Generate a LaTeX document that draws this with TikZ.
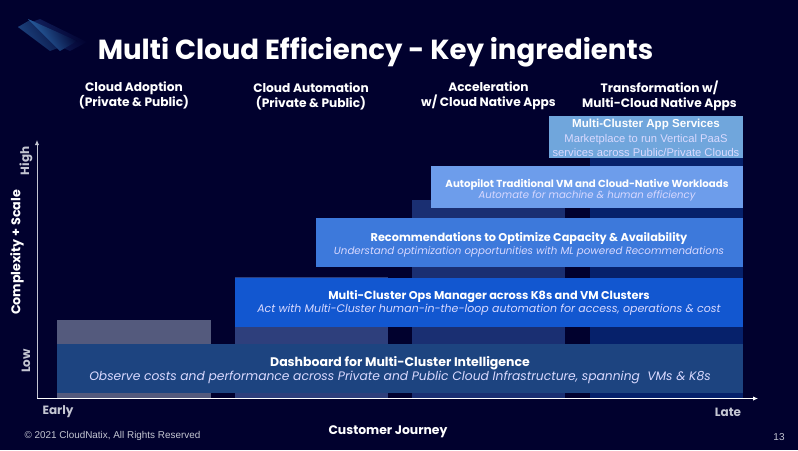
\documentclass[tikz,border=0pt]{standalone}
\usepackage{fontspec}
\setmainfont{Poppins}
\newfontfamily\rbfont{Liberation Sans}
\usepackage{xcolor}
\usetikzlibrary{arrows.meta, positioning, shapes.geometric, calc}
\definecolor{pagebg}{HTML}{01012E}
\definecolor{colA}{HTML}{545A7D}
\definecolor{colB}{HTML}{2E3F7C}
\definecolor{colC}{HTML}{1A2F72}
\definecolor{colD}{HTML}{06216B}
\definecolor{barA}{HTML}{1D4480}
\definecolor{barB}{HTML}{1257D0}
\definecolor{barC}{HTML}{3D79DB}
\definecolor{barD}{HTML}{6D9DEB}
\definecolor{barE}{HTML}{70A6DC}
\definecolor{softgray}{HTML}{C4C6D2}
\definecolor{logoblue}{HTML}{2F70B5}
\newcommand{\fsz}[1]{\fontsize{#1}{1.2em}\selectfont}

\begin{document}
\begin{tikzpicture}[
    x=1pt, y=-1pt,
    column/.style={fill=#1, draw=none},
    bar/.style={fill=#1, rectangle, inner sep=0pt, anchor=north west, text=white, align=center},
    head/.style={text=white, align=center, font=\fontsize{12.2}{15}\selectfont\bfseries},
    main/.style={text=white, font=\fsz{11.3}\bfseries},
    sub/.style={text=white!85!blue, font=\fsz{11}\itshape},
    axis/.style={-{Latex[length=5pt,width=4.5pt]}, line width=0.9pt},
    axlabel/.style={text=softgray, font=\fsz{12}\bfseries}
]
    \fill[pagebg] (0,0) rectangle (798,450);
    \useasboundingbox (0,0) rectangle (798,450);

    % logo
    \shade[left color=pagebg, right color=colC, shading angle=-60] (18,27) -- (40,19) -- (87,42) -- (70,51) -- cycle;
    \shade[left color=pagebg, right color=barA, shading angle=-60] (18,27) -- (30,20) -- (77,41) -- (50,51) -- cycle;
    \shade[left color=pagebg, right color=logoblue, shading angle=-60] (28,19) -- (77,41) -- (60,51) -- cycle;

    \node[text=white, font=\fsz{27.6}\bfseries] (title) at (375.5,52.5) {Multi Cloud Efficiency - Key ingredients};

    \node[head] (headA) at (134,95.5) {Cloud Adoption\\(Private \& Public)};
    \node[head] (headB) at (311,96.5) {Cloud Automation\\(Private \& Public)};
    \node[head] (headC) at (488.5,95.5) {Acceleration\\w/ Cloud Native Apps};
    \node[head] (headD) at (659.5,95.5) {Transformation w/\\Multi-Cloud Native Apps};

    % columns behind the bars
    \fill[column=colA] (57,320) rectangle (210.5,398);
    \fill[column=colB] (234.5,277) rectangle (388,398);
    \fill[column=colC] (412,200) rectangle (565,398);
    \fill[column=colD] (590,158) rectangle (743,398);

    \node[bar=barA, minimum width=686pt, minimum height=49pt] (dash) at (57,344) {};
    \node[main, font=\fsz{12.5}\bfseries] (dashT) at (400,363) {Dashboard for Multi-Cluster Intelligence};
    \node[sub, font=\fsz{12.3}\itshape] (dashS) at (400,377.5) {Observe costs and performance across Private and Public Cloud Infrastructure, spanning\ \ VMs \& K8s};

    \node[bar=barB, minimum width=508.5pt, minimum height=49.5pt] (ops) at (234.5,277.5) {};
    \node[main] (opsT) at (489,297) {Multi-Cluster Ops Manager across K8s and VM Clusters};
    \node[sub] (opsS) at (489,310) {Act with Multi-Cluster human-in-the-loop automation for access, operations \& cost};

    \node[bar=barC, minimum width=427.5pt, minimum height=49pt] (recs) at (315.5,218) {};
    \node[main] (recsT) at (529,238.5) {Recommendations to Optimize Capacity \& Availability};
    \node[sub, font=\fsz{10.3}\itshape] (recsS) at (529,252) {Understand optimization opportunities with ML powered Recommendations};

    \node[bar=barD, minimum width=312pt, minimum height=42pt] (auto) at (431,166) {};
    \node[main, font=\fsz{10.2}\bfseries] (autoT) at (587,184.5) {Autopilot Traditional VM and Cloud-Native Workloads};
    \node[sub, font=\fsz{10.1}\itshape] (autoS) at (587,196) {Automate for machine \& human efficiency};

    \node[bar=barE, minimum width=194pt, minimum height=42pt] (apps) at (549,116) {};
    \node[text=white, font=\rbfont\fsz{11.6}\bfseries] (appsT) at (646,124.5) {Multi-Cluster App Services};
    \node[text=white!85!blue, font=\rbfont\fontsize{11.2}{13.3}\selectfont, align=center] (appsS) at (646,145.5) {Marketplace to run Vertical PaaS\\services across Public/Private Clouds};

    % axes
    \coordinate (origin) at (37,398.5);
    \coordinate (topEnd) at (37,140);
    \coordinate (rightEnd) at (758,398.5);
    \draw[axis, color=softgray] (origin) -- (topEnd);
    \draw[axis, color=white] (origin) -- (rightEnd);

    \node[axlabel, rotate=90] (high) at (26,161) {High};
    \node[axlabel, rotate=90] (low) at (26,361) {Low};
    \node[text=white, rotate=90, font=\fsz{12.7}\bfseries] (yname) at (17,252.5) {Complexity + Scale};
    \node[axlabel] (early) at (58,412) {Early};
    \node[axlabel] (late) at (728,412) {Late};
    \node[text=white, font=\fsz{12.4}\bfseries] (xname) at (388,431.5) {Customer Journey};
    \node[text=softgray, font=\rbfont\fsz{9.9}] (copyright) at (112.5,436) {© 2021 CloudNatix, All Rights Reserved};
    \node[text=softgray, font=\rbfont\fsz{10}] (pagenum) at (779,437) {13};
\end{tikzpicture}
\end{document}
